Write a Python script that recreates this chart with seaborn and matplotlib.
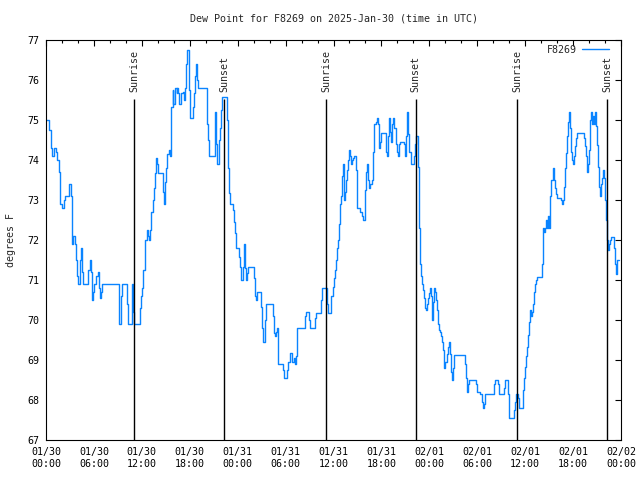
import pandas as pd
import seaborn as sns
import matplotlib
matplotlib.use('Agg')
import matplotlib.pyplot as plt
import matplotlib.dates as mdates

# hours after 2025-01-30 00:00 UTC where a new reading starts, and dew point (F)
hours = [0.0, 0.35, 0.6, 0.8, 0.95, 1.25, 1.4, 1.6, 1.75, 2.0, 2.2, 2.35, 2.9, 3.1, 3.2, 3.3, 3.4, 3.6, 3.7, 3.9,
         4.05, 4.2, 4.35, 4.45, 4.6, 5.3, 5.5, 5.6, 5.8, 5.9, 6.05, 6.25, 6.55, 6.65, 6.75, 6.9, 7.05, 9.1, 9.2, 9.45,
         9.55, 10.1, 10.3, 10.75, 10.85, 11.0, 11.75, 11.9, 12.05, 12.2, 12.35, 12.45, 12.65, 12.8, 12.95, 13.05, 13.2, 13.35, 13.5, 13.6,
         13.75, 13.9, 14.05, 14.65, 14.8, 14.9, 15.05, 15.2, 15.35, 15.5, 15.6, 15.7, 15.85, 15.95, 16.1, 16.2, 16.35, 16.45, 16.55, 16.7,
         16.85, 17.1, 17.25, 17.4, 17.55, 17.7, 17.9, 18.0,
         18.36, 18.53, 18.66, 18.78, 18.86, 18.95, 19.07, 20.12, 20.33, 20.45, 21.12, 21.2, 21.33, 21.45, 21.62, 21.7, 21.83, 21.91, 22.08, 22.62,
         22.75, 22.91, 23.04, 23.37, 23.5, 23.62, 23.75, 24.21, 24.33, 24.46, 24.62, 24.79, 24.92, 25.04, 25.21, 25.29, 26.04, 26.17, 26.29, 26.42,
         26.88, 27.0, 27.13, 27.46, 27.59, 28.38, 28.51, 28.63, 28.76, 28.88, 29.0, 29.09, 29.63, 29.76, 30.18, 30.34, 30.51, 30.84, 31.01, 31.13,
         31.26, 31.39, 32.47, 32.6, 32.97, 33.1, 33.72, 33.85, 34.43, 34.56, 35.14, 35.31, 35.73, 35.9, 36.02, 36.14, 36.27, 36.44, 36.56, 36.69,
         36.77, 36.86, 36.98, 37.11, 37.19, 37.36, 37.48, 37.61, 37.69, 37.82, 37.94, 38.07, 38.19, 38.32, 38.49, 38.61, 38.78, 38.9, 38.99, 39.36,
         39.53, 39.74, 39.9, 40.07, 40.24, 40.36, 40.49, 40.61, 40.78, 40.91, 41.03, 41.28, 41.41, 41.53, 41.66, 41.78, 41.91, 42.58, 42.74, 42.87,
         42.99, 43.12, 43.24, 43.37, 43.49, 43.62, 43.79, 43.91, 44.04, 44.16, 44.29, 44.83, 44.95, 45.08, 45.16, 45.25, 45.37, 45.5, 45.66, 46.08,
         46.17, 46.29, 46.54, 46.67, 46.79, 46.92, 47.04, 47.21, 47.33, 47.46, 47.58, 47.75, 47.88, 48.0, 48.13, 48.25, 48.38, 48.5, 48.63, 48.75,
         48.88, 49.0, 49.13, 49.25, 49.38, 49.5, 49.63, 49.75, 49.88, 50.0, 50.17, 50.3, 50.42, 50.55, 50.67, 50.8, 50.92, 51.05, 52.51, 52.63,
         52.76, 52.88, 53.01, 53.84, 53.97,
         54.35, 54.56, 54.68, 54.81, 54.98, 56.14, 56.27, 56.65, 56.77, 57.4, 57.52, 57.9, 58.02, 58.57, 58.69, 58.82, 59.15, 59.27, 59.69, 59.82,
         59.94, 60.07, 60.19, 60.32, 60.44, 60.57, 60.69, 60.82, 60.94, 61.07, 61.19, 61.32, 61.45, 62.07, 62.2, 62.28, 62.4, 62.53, 62.66, 62.78,
         62.91, 63.03, 63.16, 63.28, 63.45, 63.57, 63.7, 63.82, 63.95, 64.49, 64.62, 64.74, 64.87, 64.99, 65.12, 65.24, 65.37, 65.49, 65.62, 65.74,
         65.87, 65.99, 66.12, 66.24, 66.37, 66.5, 67.33, 67.45, 67.58, 67.71, 67.83, 67.96, 68.08, 68.17, 68.25, 68.37, 68.5, 68.58, 68.71, 68.83,
         68.96, 69.08, 69.21, 69.33, 69.46, 69.58, 69.71, 69.83, 69.96, 70.08, 70.21, 70.34, 70.46, 70.59, 70.71, 71.09, 71.21, 71.34, 71.46, 71.75]

dew_f = [75.0, 74.75, 74.3, 74.1, 74.3, 74.2, 74.0, 73.7, 72.9, 72.8, 73.0, 73.1, 73.4, 73.1, 72.25, 71.9, 72.1, 71.9, 71.5, 71.1,
         70.9, 71.5, 71.8, 71.2, 70.9, 71.25, 71.5, 71.2, 70.5, 70.7, 70.9, 71.1, 71.2, 70.8, 70.55, 70.7, 70.9, 70.2, 69.9, 70.6,
         70.9, 70.4, 69.9, 70.9, 70.2, 69.9, 70.3, 70.6, 70.8, 71.25, 71.6, 72.0, 72.25, 72.1, 72.0, 72.25, 72.7, 73.0, 73.3, 73.67,
         74.05, 73.9, 73.67, 73.2, 72.9, 73.45, 73.8, 74.15, 74.25, 74.1, 74.5, 75.33, 75.75, 75.4, 75.67, 75.8, 75.67, 75.8, 75.67, 75.4,
         75.67, 75.7, 75.5, 75.8, 76.4, 76.75, 75.75, 75.04,
         75.33, 75.67, 76.1, 76.4, 76.25, 76.0, 75.8, 74.9, 74.5, 74.1, 74.5, 75.2, 74.4, 73.9, 74.2, 74.5, 74.8, 75.25, 75.58, 75.0,
         73.8, 73.17, 72.9, 72.75, 72.46, 72.17, 71.8, 71.58, 71.33, 71.0, 71.33, 71.9, 71.3, 71.0, 71.17, 71.33, 71.04, 70.6, 70.5, 70.7,
         70.33, 69.8, 69.46, 70.0, 70.4, 70.1, 69.67, 69.6, 69.7, 69.8, 69.5, 68.9, 68.75, 68.54, 68.75, 68.95, 69.17, 68.95, 69.05, 68.9,
         69.1, 69.8, 70.1, 70.2, 70.0, 69.8, 70.05, 70.17, 70.5, 70.8, 70.4, 70.17, 70.6, 70.83, 71.04, 71.25, 71.5, 71.8, 72.0, 72.4,
         72.5, 72.9, 73.1, 73.6, 73.9, 73.0, 73.2, 73.5, 73.75, 74.0, 74.25, 74.1, 73.9, 74.0, 74.05, 74.1, 73.75, 73.1, 72.8, 72.7,
         72.6, 72.5, 73.25, 73.7, 73.9, 73.5, 73.3, 73.4, 73.5, 74.2, 74.9, 74.95, 75.05, 74.9, 74.3, 74.45, 74.67, 74.2, 74.1, 74.6,
         75.05, 74.7, 74.45, 74.9, 75.05, 74.8, 74.4, 74.2, 74.1, 74.4, 74.45, 74.4, 74.1, 74.6, 74.9, 75.2, 74.65, 74.2, 73.9, 74.1,
         74.4, 74.6, 73.83, 72.3, 71.4, 71.1, 70.9, 70.75, 70.55, 70.3, 70.25, 70.4, 70.55, 70.67, 70.8, 70.6, 70.0, 70.45, 70.8, 70.7,
         70.5, 70.25, 69.9, 69.75, 69.7, 69.6, 69.45, 69.25, 68.8, 68.95, 69.15, 69.33, 69.45, 69.15, 68.7, 68.5, 68.8, 69.12, 68.9, 68.55,
         68.2, 68.4, 68.5, 68.4, 68.2,
         68.15, 67.95, 67.8, 67.9, 68.15, 68.4, 68.5, 68.4, 68.15, 68.3, 68.5, 68.15, 67.55, 67.75, 67.95, 68.15, 68.05, 67.8, 68.25, 68.55,
         68.83, 69.1, 69.33, 69.63, 69.96, 70.25, 70.1, 70.2, 70.4, 70.7, 70.9, 71.0, 71.08, 71.4, 72.1, 72.3, 72.2, 72.3, 72.5, 72.3,
         72.6, 72.3, 73.1, 73.5, 73.8, 73.5, 73.3, 73.15, 73.04, 73.0, 72.9, 73.0, 73.33, 73.8, 74.17, 74.6, 74.95, 75.2, 74.8, 74.2,
         74.0, 73.9, 74.1, 74.35, 74.55, 74.67, 74.55, 74.35, 74.1, 73.7, 73.9, 74.25, 74.67, 75.0, 75.2, 74.9, 75.1, 74.9, 75.2, 74.85,
         74.37, 73.83, 73.33, 73.1, 73.4, 73.55, 73.75, 73.55, 73.0, 72.5, 72.0, 71.75, 71.9, 72.0, 72.08, 71.8, 71.4, 71.15, 71.5, 71.5]

sunrise_hours = [11.05, 35.08, 59.03]
sunset_hours = [22.3, 46.27, 70.28]

start = pd.Timestamp('2025-01-30 00:00')
df = pd.DataFrame({'time': start + pd.to_timedelta(hours, unit='h'), 'dewpoint': dew_f})

sns.set_theme(style='white')
plt.rcParams['font.family'] = ['DejaVu Sans Mono']
plt.rcParams['font.size'] = 7.2

fig = plt.figure(figsize=(6.4, 4.8), dpi=100)
ax = fig.add_axes([46/640, 40/480, 575/640, 400/480])

sns.lineplot(data=df, x='time', y='dewpoint', ax=ax, color='#0a84ff', lw=1.0,
             drawstyle='steps-post', estimator=None, sort=False, label='F8269')

for name, hrs in [('Sunrise', sunrise_hours), ('Sunset', sunset_hours)]:
    for h in hrs:
        t = start + pd.Timedelta(hours=h)
        ax.vlines(t, 67, 75.52, color='black', lw=1.0)
        ax.text(t, 75.71, name, rotation=90, ha='center', va='bottom', fontsize=7.2)

ax.set_xlim(start, start + pd.Timedelta(days=3))
ax.set_ylim(67, 77)
ax.set_yticks(range(67, 78))
ax.xaxis.set_major_locator(mdates.HourLocator(byhour=[0, 6, 12, 18]))
ax.xaxis.set_minor_locator(mdates.HourLocator(byhour=range(0, 24, 2)))
ax.xaxis.set_major_formatter(mdates.DateFormatter('%m/%d\n%H:%M'))
ax.tick_params(which='both', direction='in', top=True, right=True, colors='black', width=0.8, labelsize=7.2)
ax.tick_params(which='major', length=4.5, pad=5)
ax.tick_params(which='minor', length=2.2)
for s in ax.spines.values():
    s.set_color('black')
    s.set_linewidth(0.8)

ax.set_xlabel('')
ax.set_ylabel('degrees F', fontsize=7.2)
ax.yaxis.set_label_coords(-0.052, 0.5)
ax.set_title('Dew Point for F8269 on 2025-Jan-30 (time in UTC)', fontsize=7.2, pad=13)

ax.legend(loc='upper right', bbox_to_anchor=(1 - 7/575, 1.0), frameon=False, markerfirst=False,
          handlelength=2.7, handletextpad=0.5, borderaxespad=0.1, fontsize=7.2)

fig.savefig('out.png', dpi=100)
